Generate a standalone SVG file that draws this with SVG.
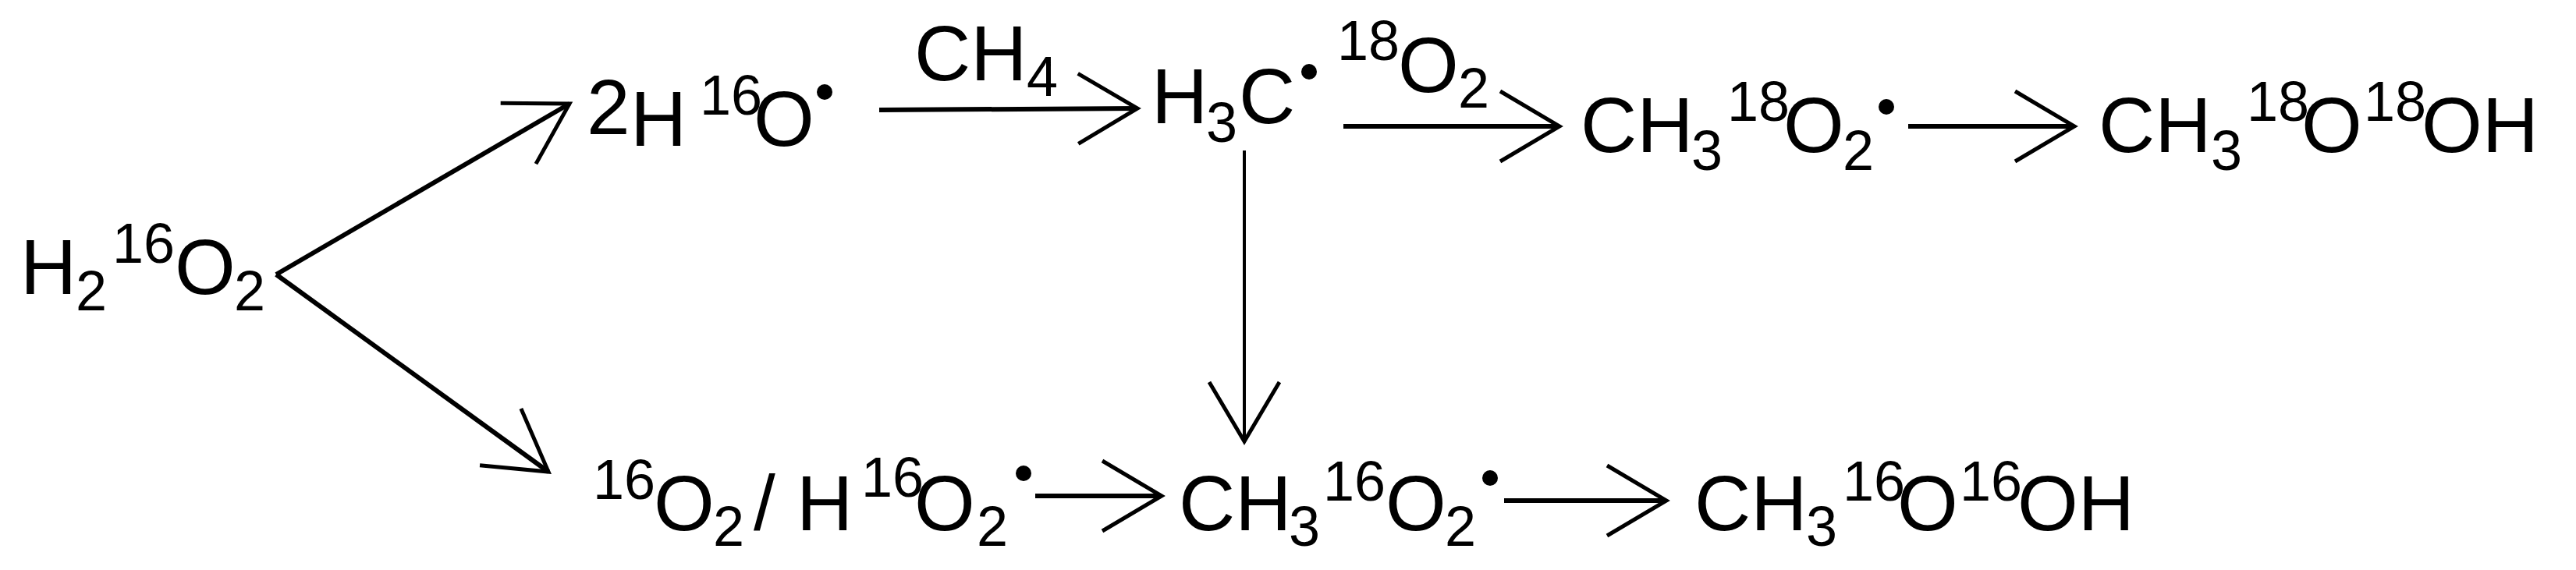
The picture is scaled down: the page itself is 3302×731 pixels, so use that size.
<svg xmlns="http://www.w3.org/2000/svg" width="3302" height="731" viewBox="0 0 3302 731">
<style>
text{font-family:"Liberation Sans",Arial,sans-serif;fill:#000;font-size:100px}
.s{font-size:72px}
.c{stroke:#000;stroke-width:6;fill:none;marker-end:url(#ah)}
.v{stroke-width:4}
</style>
<defs>
<marker id="ah" markerUnits="userSpaceOnUse" orient="auto" markerWidth="200" markerHeight="200" refX="0" refY="0" viewBox="-100 -100 200 200" overflow="visible">
<path d="M-76,-45 L0,0 L-76,45" fill="none" stroke="#000" stroke-width="5"/>
</marker>
</defs>
<rect width="3302" height="731" fill="#fff"/>
<g id="connectors">
<line class="c" x1="354" y1="352" x2="730" y2="133"/>
<line class="c" x1="354" y1="352" x2="703" y2="605"/>
<line class="c" x1="1127" y1="141" x2="1458" y2="139"/>
<line class="c" x1="1722" y1="162" x2="1999" y2="162"/>
<line class="c" x1="2446" y1="162" x2="2659" y2="162"/>
<line class="c v" x1="1595" y1="193" x2="1595" y2="566"/>
<line class="c" x1="1327" y1="636" x2="1489" y2="636"/>
<line class="c" x1="1928" y1="642" x2="2136" y2="642"/>
</g>
<g id="n-h2o2">
<text x="26" y="377">H</text><text class="s" x="97" y="398">2</text><text class="s" x="144" y="337">16</text><text x="224" y="377">O</text><text class="s" x="300" y="398">2</text>
</g>
<g id="n-ho">
<text x="752" y="172">2</text><text x="808" y="187">H</text><text class="s" x="897" y="147">16</text><text x="966" y="187">O</text><circle cx="1057" cy="118" r="10"/>
</g>
<g id="l-ch4">
<text x="1172" y="103">CH</text><text class="s" x="1316" y="123">4</text>
</g>
<g id="n-h3c">
<text x="1476" y="158">H</text><text class="s" x="1546" y="182">3</text><text x="1588" y="158">C</text><circle cx="1678" cy="92" r="10"/>
</g>
<g id="l-18o2">
<text class="s" x="1714" y="77">18</text><text x="1792" y="118">O</text><text class="s" x="1869" y="138">2</text>
</g>
<g id="n-ch3-18o2">
<text x="2026" y="195">CH</text><text class="s" x="2168" y="218">3</text><text class="s" x="2214" y="155">18</text><text x="2286" y="195">O</text><text class="s" x="2362" y="218">2</text><circle cx="2418" cy="137" r="10"/>
</g>
<g id="n-ch3-18o18oh">
<text x="2690" y="195">CH</text><text class="s" x="2834" y="218">3</text><text class="s" x="2880" y="155">18</text><text x="2950" y="195">O</text><text class="s" x="3030" y="155">18</text><text x="3104" y="195">OH</text>
</g>
<g id="n-o2-ho2">
<text class="s" x="760" y="640">16</text><text x="838" y="680">O</text><text class="s" x="914" y="700">2</text><text x="966" y="680">/</text><text x="1021" y="680">H</text><text class="s" x="1104" y="637">16</text><text x="1172" y="680">O</text><text class="s" x="1252" y="700">2</text><circle cx="1312" cy="607" r="10"/>
</g>
<g id="n-ch3-16o2">
<text x="1511" y="680">CH</text><text class="s" x="1652" y="700">3</text><text class="s" x="1696" y="642">16</text><text x="1776" y="680">O</text><text class="s" x="1852" y="700">2</text><circle cx="1910" cy="613" r="10"/>
</g>
<g id="n-ch3-16o16oh">
<text x="2172" y="680">CH</text><text class="s" x="2315" y="700">3</text><text class="s" x="2362" y="642">16</text><text x="2432" y="680">O</text><text class="s" x="2512" y="642">16</text><text x="2586" y="680">OH</text>
</g>
</svg>
